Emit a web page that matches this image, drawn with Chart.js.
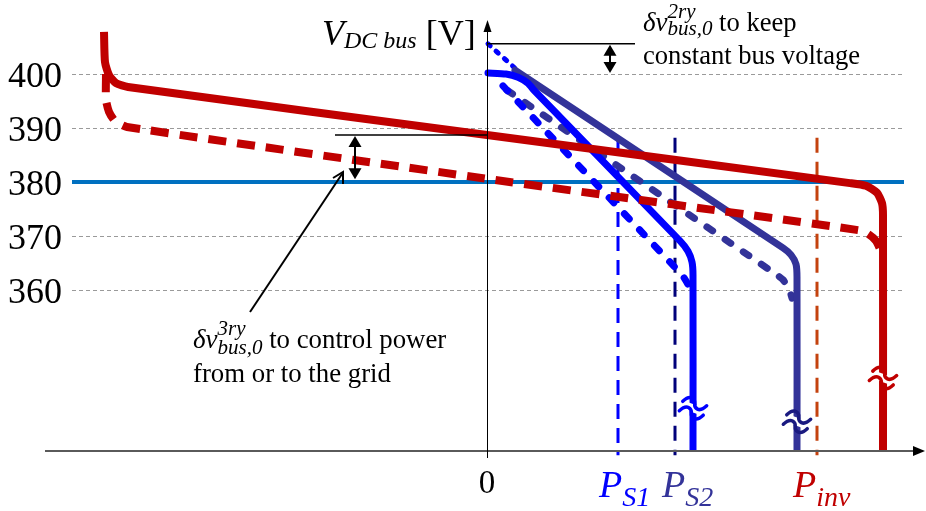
<!DOCTYPE html>
<html>
<head>
<meta charset="utf-8">
<script src="https://cdn.jsdelivr.net/npm/chart.js@4"></script>
<style>
  html, body { margin: 0; padding: 0; background: #fff; }
  #wrap { width: 926px; height: 511px; position: relative; }
</style>
</head>
<body>
<div id="wrap"><canvas id="droop"></canvas></div>
<script>
// power axis (arbitrary units, 0 = origin) and bus voltage [V]
const invSolidP = [-3.83, -3.82, -3.78, -3.71, -3.59, 0, 3.63, 3.79, 3.90, 3.95, 3.96, 3.96];
const invSolidV = [407.8, 402.2, 399.8, 398.3, 397.6, 388.7, 379.8, 379.3, 378.0, 376.1, 373.9, 330.2];

const invDashP = [-3.81, -3.81, -3.78, -3.72, -3.60, 0, 3.71, 3.81, 3.89, 3.94];
const invDashV = [400.0, 395.2, 393.0, 391.3, 390.2, 380.6, 371.1, 370.4, 369.1, 367.2];

const s1SolidP = [0.01, 0.19, 0.31, 0.41, 0.47, 1.93, 2.01, 2.05, 2.06, 2.06];
const s1SolidV = [400.2, 400.0, 399.4, 398.3, 397.0, 369.1, 367.2, 365.2, 362.8, 330.2];

const s1DashP = [0.16, 1.95, 2.01, 2.04];
const s1DashV = [397.8, 362.8, 361.0, 358.8];

const s1ShiftP = [0.01, 0.29];
const s1ShiftV = [405.6, 400.9];

const s2SolidP = [0.28, 2.96, 3.04, 3.09, 3.10, 3.10];
const s2SolidV = [400.7, 367.8, 366.5, 364.8, 362.4, 330.2];

const s2DashP = [0.20, 2.86, 2.96, 3.02, 3.05];
const s2DashV = [397.0, 363.3, 361.9, 360.2, 358.5];

const busRefP = [-4.15, 4.17];
const busRefV = [380, 380];

// rated powers (vertical dashed markers)
const ratedP = [1.31, 1.88, 3.30];
const ratedTop = [387.8, 388.2, 388.2];
const ratedColors = ['#0000FF', '#00007A', '#C4420E'];

const yTicks = [360, 370, 380, 390, 400];

const pts = (xs, ys) => xs.map((x, i) => ({ x: x, y: ys[i] }));

const RED = '#C00000';
const NAVY = '#333399';
const BLUE = '#0000FF';

function line(data, color, width, extra) {
  return Object.assign({
    data: data,
    showLine: true,
    borderColor: color,
    borderWidth: width,
    pointRadius: 0,
    fill: false,
    tension: 0.2
  }, extra || {});
}

const datasets = [
  line(pts(invSolidP, invSolidV), RED, 8, { order: 0, borderJoinStyle: 'round' }),
  line(pts(invDashP, invDashV), RED, 8, { order: 1, borderDash: [18, 11] }),
  line(pts(s1SolidP, s1SolidV), BLUE, 7, { order: 2, borderCapStyle: 'round', borderJoinStyle: 'round' }),
  line(pts(s2SolidP, s2SolidV), NAVY, 7, { order: 3, borderCapStyle: 'round', borderJoinStyle: 'round' }),
  line(pts(s1DashP, s1DashV), BLUE, 7, { order: 4, borderDash: [7, 15], borderCapStyle: 'round' }),
  line(pts(s2DashP, s2DashV), NAVY, 7, { order: 5, borderDash: [7, 15], borderCapStyle: 'round' }),
  line(pts(s1ShiftP, s1ShiftV), BLUE, 5, { order: 6, borderDash: [3, 8], borderCapStyle: 'round' }),
  line(pts(busRefP, busRefV), '#0070C0', 4, { order: 8, tension: 0 })
];
ratedP.forEach((p, i) => {
  datasets.push(line(pts([p, p], [ratedTop[i], 329.4]), ratedColors[i], 3,
    { order: 7, tension: 0, borderDash: [15, 9], clip: false }));
});

// text helper: runs of [text, font, dy, noAdvance]
function runs(ctx, x, y, parts, color) {
  ctx.fillStyle = color;
  ctx.textAlign = 'left';
  ctx.textBaseline = 'alphabetic';
  let cx = x;
  parts.forEach(p => {
    ctx.font = p[1];
    ctx.fillText(p[0], cx, y + (p[2] || 0));
    if (!p[3]) cx += ctx.measureText(p[0]).width;
  });
}

function fitSize(ctx, text, family, target) {
  ctx.font = '100px ' + family;
  return 100 * target / ctx.measureText(text).width;
}

function triangle(ctx, x1, y1, x2, y2, x3, y3) {
  ctx.beginPath();
  ctx.moveTo(x1, y1); ctx.lineTo(x2, y2); ctx.lineTo(x3, y3);
  ctx.closePath();
  ctx.fill();
}

function doubleArrow(ctx, x, yTop, yBot) {
  ctx.fillStyle = '#000';
  ctx.strokeStyle = '#000';
  ctx.lineWidth = 2;
  ctx.beginPath(); ctx.moveTo(x, yTop + 8); ctx.lineTo(x, yBot - 8); ctx.stroke();
  triangle(ctx, x, yTop, x - 6.5, yTop + 11, x + 6.5, yTop + 11);
  triangle(ctx, x, yBot, x - 6.5, yBot - 11, x + 6.5, yBot - 11);
}

// break mark: two stacked tilde strokes over the line
function breakMark(ctx, x, y, color) {
  ctx.save();
  ctx.translate(x, y);
  ctx.rotate(0.35);
  const wave = (dy, col, w) => {
    ctx.strokeStyle = col;
    ctx.lineWidth = w;
    ctx.lineCap = 'round';
    ctx.beginPath();
    ctx.moveTo(-12, dy + 2);
    ctx.bezierCurveTo(-7, dy - 8, -1, dy - 4, 0, dy);
    ctx.bezierCurveTo(1, dy + 4, 7, dy + 8, 12, dy - 2);
    ctx.stroke();
  };
  ctx.fillStyle = '#fff';
  ctx.fillRect(-6, -4, 12, 8);
  wave(-5, color, 3.5);
  wave(5, color, 3.5);
  ctx.restore();
}

const deco = {
  id: 'deco',
  beforeDatasetsDraw(chart) {
    const ctx = chart.ctx, xs = chart.scales.x, ys = chart.scales.y;
    ctx.save();
    ctx.strokeStyle = '#9a9a9a';
    ctx.lineWidth = 1;
    ctx.setLineDash([4, 3]);
    yTicks.forEach(t => {
      const y = Math.round(ys.getPixelForValue(t)) + 0.5;
      ctx.beginPath();
      ctx.moveTo(xs.getPixelForValue(-4.15), y);
      ctx.lineTo(xs.getPixelForValue(4.18), y);
      ctx.stroke();
    });
    ctx.restore();
  },
  afterDatasetsDraw(chart) {
    const ctx = chart.ctx, xs = chart.scales.x, ys = chart.scales.y;
    const x0 = xs.getPixelForValue(0);
    const yAxis = ys.getPixelForValue(ys.min);
    ctx.save();

    // axes
    ctx.strokeStyle = '#5a5a5a';
    ctx.lineWidth = 2;
    ctx.beginPath(); ctx.moveTo(45, yAxis); ctx.lineTo(916, yAxis); ctx.stroke();
    ctx.fillStyle = '#000';
    triangle(ctx, 925, yAxis, 913, yAxis - 5, 913, yAxis + 5);
    ctx.strokeStyle = '#000';
    ctx.lineWidth = 1;
    ctx.beginPath(); ctx.moveTo(x0 + 0.5, 30); ctx.lineTo(x0 + 0.5, yAxis + 7); ctx.stroke();
    triangle(ctx, x0 + 0.5, 20, x0 - 3.5, 32, x0 + 4.5, 32);

    // y tick labels
    ctx.fillStyle = '#000';
    ctx.font = '36px "Liberation Serif"';
    ctx.textAlign = 'right';
    ctx.textBaseline = 'alphabetic';
    yTicks.forEach(t => ctx.fillText(String(t), 62, ys.getPixelForValue(t) + 12.5));
    ctx.textAlign = 'center';
    ctx.font = '33px "Liberation Serif"';
    ctx.fillText('0', x0, 493);

    // axis title
    runs(ctx, 322, 45, [
      ['V', 'italic 36px "Liberation Serif"'],
      ['DC bus', 'italic 24px "Liberation Serif"', 3],
      [' [V]', '36px "Liberation Serif"']
    ], '#000');

    // power markers
    const lab = (x, sub, color) => runs(ctx, x, 497, [
      ['P', 'italic 38px "Liberation Serif"'],
      [sub, 'italic 28px "Liberation Serif"', 9]
    ], color);
    lab(599, 'S1', BLUE);
    lab(662, 'S2', NAVY);
    lab(793, 'inv', RED);

    // break marks on the vertical limits
    breakMark(ctx, xs.getPixelForValue(3.96), ys.getPixelForValue(343.7), RED);
    breakMark(ctx, xs.getPixelForValue(3.10), ys.getPixelForValue(335.6), '#1a1a80');
    breakMark(ctx, xs.getPixelForValue(2.06), ys.getPixelForValue(338.1), BLUE);

    // secondary-control annotation (top)
    ctx.strokeStyle = '#000';
    ctx.lineWidth = 1.5;
    const yTopRef = ys.getPixelForValue(405.6);
    ctx.beginPath(); ctx.moveTo(x0, yTopRef); ctx.lineTo(635, yTopRef); ctx.stroke();
    doubleArrow(ctx, 610, yTopRef + 1, ys.getPixelForValue(400) - 1);

    const fam = '"Liberation Serif"';
    let s = fitSize(ctx, 'constant bus voltage', fam, 217);
    runs(ctx, 643, 31, [
      ['\u03B4v', 'italic 27px ' + fam],
      ['2ry', 'italic 21px ' + fam, -13, true],
      ['bus,0', 'italic 21px ' + fam, 4],
      [' to keep', s.toFixed(1) + 'px ' + fam]
    ], '#000');
    runs(ctx, 643, 64, [['constant bus voltage', s.toFixed(1) + 'px ' + fam]], '#000');

    // tertiary-control annotation (left)
    ctx.strokeStyle = '#000';
    ctx.lineWidth = 1.5;
    const yLeftRef = ys.getPixelForValue(388.7);
    ctx.beginPath(); ctx.moveTo(335, yLeftRef); ctx.lineTo(x0, yLeftRef); ctx.stroke();
    doubleArrow(ctx, 355, yLeftRef + 1, ys.getPixelForValue(380.5));
    ctx.lineWidth = 2;
    ctx.beginPath(); ctx.moveTo(250, 312); ctx.lineTo(342, 174); ctx.stroke();
    ctx.beginPath(); ctx.moveTo(333, 178); ctx.lineTo(343, 172); ctx.lineTo(343, 184); ctx.stroke();

    s = fitSize(ctx, 'to control power', fam, 177);
    runs(ctx, 193, 348, [
      ['\u03B4v', 'italic 27px ' + fam],
      ['3ry', 'italic 21px ' + fam, -13, true],
      ['bus,0', 'italic 21px ' + fam, 6],
      [' to control power', s.toFixed(1) + 'px ' + fam]
    ], '#000');
    runs(ctx, 193, 382, [['from or to the grid', s.toFixed(1) + 'px ' + fam]], '#000');

    ctx.restore();
  }
};

new Chart(document.getElementById('droop'), {
  type: 'scatter',
  data: { datasets: datasets },
  options: {
    responsive: true,
    maintainAspectRatio: false,
    animation: false,
    layout: { padding: { left: 45, right: 4, top: 17, bottom: 60 } },
    scales: {
      x: { type: 'linear', min: -4.42, max: 4.35, display: false },
      y: { type: 'linear', min: 330.19, max: 410.56, display: false }
    },
    plugins: { legend: { display: false }, tooltip: { enabled: false } }
  },
  plugins: [deco]
});
</script>
</body>
</html>
